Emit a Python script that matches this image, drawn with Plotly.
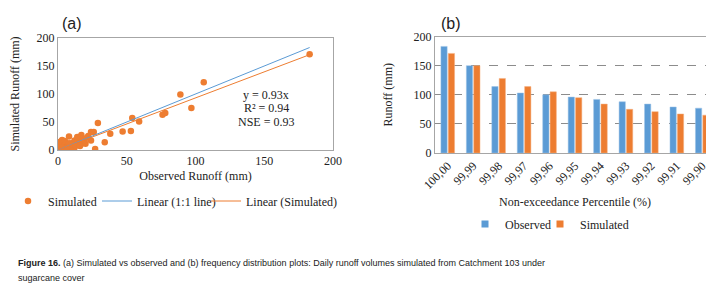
import plotly.graph_objects as go

# ---- Panel (a) data: observed vs simulated daily runoff (mm)
observed = [183, 106, 89, 97, 76, 78, 59, 54, 53, 47, 29, 38, 34, 24, 26, 17, 27, 8, 3, 12,
            17, 24, 17, 12, 1, 2, 3, 4, 5, 1, 2, 0.5, 1.5, 3, 6, 10, 14, 15, 16, 18, 20, 22,
            5, 7, 9, 11, 13, 2, 4, 1, 0.5, 3, 6, 8, 19, 21, 16, 14]
simulated = [171, 121, 99, 75, 63, 66, 51, 57, 34, 33, 48, 29, 14, 32, 32, 27, 2, 24, 18, 17,
             21, 17, 11, 4, 12, 15, 10, 13, 7, 5, 3, 8, 1, 2, 9, 12, 15, 10, 14, 20, 11, 25,
             16, 6, 4, 10, 8, 0.5, 1, 9, 14, 5, 3, 12, 18, 22, 7, 23]
slope_sim = 0.93
line_x = [0, 183]

# ---- Panel (b) data: frequency distribution
percentiles = ["100,00", "99,99", "99,98", "99,97", "99,96", "99,95", "99,94", "99,93",
               "99,92", "99,91", "99,90"]
obs_freq = [183, 150, 114, 103, 100, 96, 92, 88, 84, 79, 77]
sim_freq = [171, 150, 128, 114, 105, 95, 84, 75, 71, 67, 65]

BLUE = "#5B9BD5"
ORANGE = "#ED7D31"
SERIF = "Liberation Serif"
W, H = 714, 284

fig = go.Figure()

fig.add_trace(go.Scatter(x=observed, y=simulated, mode="markers", name="Simulated",
                         marker=dict(color=ORANGE, size=6.5), xaxis="x", yaxis="y",
                         legend="legend"))
fig.add_trace(go.Scatter(x=line_x, y=line_x, mode="lines", name="Linear (1:1 line)",
                         line=dict(color=BLUE, width=1), xaxis="x", yaxis="y",
                         legend="legend3"))
fig.add_trace(go.Scatter(x=line_x, y=[v * slope_sim for v in line_x], mode="lines",
                         name="Linear (Simulated)", line=dict(color=ORANGE, width=1),
                         xaxis="x", yaxis="y", legend="legend4"))

fig.add_trace(go.Bar(x=percentiles, y=obs_freq, name="Observed", marker_color=BLUE,
                     marker_line=dict(color="#9DC3E6", width=0.5),
                     xaxis="x2", yaxis="y2", showlegend=False))
fig.add_trace(go.Bar(x=percentiles, y=sim_freq, name="Simulated", marker_color=ORANGE,
                     marker_line=dict(color="#F4B183", width=0.5),
                     xaxis="x2", yaxis="y2", showlegend=False))
# legend-only entries with small square keys for the bar series
fig.add_trace(go.Scatter(x=[None], y=[None], mode="markers", name="Observed",
                         marker=dict(color=BLUE, symbol="square", size=7),
                         xaxis="x2", yaxis="y2", legend="legend2"))
fig.add_trace(go.Scatter(x=[None], y=[None], mode="markers", name="Simulated",
                         marker=dict(color=ORANGE, symbol="square", size=7),
                         xaxis="x2", yaxis="y2", legend="legend5"))

axis_common = dict(showline=True, linecolor="#A6A6A6", linewidth=1, mirror=True,
                   ticks="", tickfont=dict(family=SERIF, size=12, color="#222"),
                   zeroline=False, automargin=False)


def leg(xpx, ypx):
    return dict(orientation="h", x=xpx / W, xanchor="left", y=1 - ypx / H,
                yanchor="middle", font=dict(family=SERIF, size=12),
                bgcolor="rgba(0,0,0,0)", itemwidth=30)


fig.update_layout(
    width=W, height=H,
    margin=dict(l=0, r=0, t=0, b=0),
    paper_bgcolor="white", plot_bgcolor="white",
    font=dict(family=SERIF, size=12, color="#222"),
    barmode="group", bargap=0.42, bargroupgap=0.15,
    xaxis=dict(domain=[50 / W, 325 / W], anchor="y", range=[0, 200], dtick=50,
               showgrid=False,
               title=dict(text="Observed Runoff (mm)", font=dict(family=SERIF, size=12),
                          standoff=4),
               **axis_common),
    yaxis=dict(domain=[1 - 142 / H, 1 - 30 / H], anchor="x", range=[0, 200], dtick=50,
               showgrid=False,
               title=dict(text="Simulated Runoff (mm)", font=dict(family=SERIF, size=12),
                          standoff=18),
               **axis_common),
    xaxis2=dict(domain=[427 / W, 707 / W], anchor="y2", showgrid=False, tickangle=-45,
                title=dict(text="Non-exceedance Percentile (%)",
                           font=dict(family=SERIF, size=12), standoff=6),
                **axis_common),
    yaxis2=dict(domain=[1 - 145 / H, 1 - 28.5 / H], anchor="x2", range=[0, 200], dtick=50,
                showgrid=True, gridcolor="#8C8C8C", griddash="dash", gridwidth=0.8,
                title=dict(text="Runoff (mm)", font=dict(family=SERIF, size=12), standoff=18),
                **axis_common),
    legend=leg(0, 193),
    legend3=leg(89, 193),
    legend4=leg(198, 193),
    legend2=leg(457, 216),
    legend5=leg(532, 216),
    showlegend=True,
)

annotations = [
    dict(text="(a)", x=64 / W, y=1 - 15 / H, font=dict(family="Liberation Sans", size=16)),
    dict(text="(b)", x=443 / W, y=1 - 15 / H, font=dict(family="Liberation Sans", size=16)),
    dict(text="y = 0.93x", x=258 / W, y=1 - 87 / H, font=dict(family=SERIF, size=12)),
    dict(text="R² = 0.94", x=258 / W, y=1 - 100 / H, font=dict(family=SERIF, size=12)),
    dict(text="NSE = 0.93", x=258 / W, y=1 - 114 / H, font=dict(family=SERIF, size=12)),
    dict(text="<b>Figure 16.</b> (a) Simulated vs observed and (b) frequency distribution plots: "
              "Daily runoff volumes simulated from Catchment 103 under",
         x=8 / W, y=1 - 255 / H, xanchor="left",
         font=dict(family="Liberation Sans", size=9, color="#222")),
    dict(text="sugarcane cover", x=8 / W, y=1 - 270 / H, xanchor="left",
         font=dict(family="Liberation Sans", size=9, color="#222")),
]
for a in annotations:
    a.setdefault("xanchor", "center")
    fig.add_annotation(xref="paper", yref="paper", showarrow=False, yanchor="middle", **a)

fig.write_html("out.html")
